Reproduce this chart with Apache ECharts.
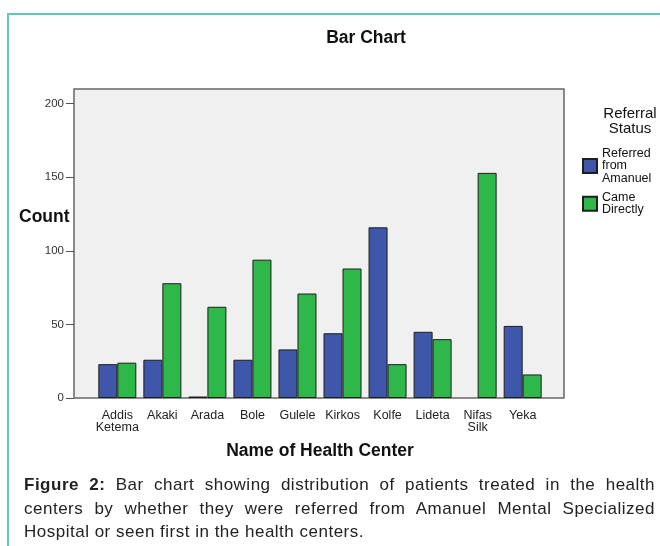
<!DOCTYPE html>
<html>
<head>
<meta charset="utf-8">
<script src="https://cdn.jsdelivr.net/npm/echarts@6/dist/echarts.min.js"></script>
<style>
  html, body { margin: 0; padding: 0; background: #fff; }
  #wrap { position: relative; width: 660px; height: 546px; overflow: hidden; }
  #frame { position: absolute; left: 7px; top: 13px; width: 700px; height: 600px;
           border-left: 2px solid #5ec9b6; border-top: 2px solid #5ec9b6; }
  #chart { position: absolute; left: 0; top: 0; width: 660px; height: 546px; }
  #caption { position: absolute; left: 24px; top: 473px; width: 631px;
             font-family: "Liberation Sans", Arial, sans-serif; font-size: 17px;
             letter-spacing: 0.5px; line-height: 23.5px; color: #222; }
  #caption .j { text-align: justify; text-align-last: justify; }
</style>
</head>
<body>
<div id="wrap">
  <div id="frame"></div>
  <div id="chart"></div>
  <div id="caption">
    <div class="j"><b>Figure 2:</b> Bar chart showing distribution of patients treated in the health</div>
    <div class="j">centers by whether they were referred from Amanuel Mental Specialized</div>
    <div>Hospital or seen first in the health centers.</div>
  </div>
</div>
<script>
var centers = ["Addis Ketema", "Akaki", "Arada", "Bole", "Gulele", "Kirkos", "Kolfe", "Lideta", "Nifas Silk", "Yeka"];
var referred = [23, 26, 1, 26, 33, 44, 116, 45, 0, 49];
var direct = [24, 78, 62, 94, 71, 88, 23, 40, 153, 16];
var yTicks = [0, 50, 100, 150, 200];

var font = "Liberation Sans";
var chart = echarts.init(document.getElementById("chart"));

// empty bars get no outline, as in SPSS
function barData(arr) {
  return arr.map(function (v) {
    return v === 0 ? { value: v, itemStyle: { borderWidth: 0 } } : v;
  });
}

chart.setOption({
  animation: false,
  textStyle: { fontFamily: font },
  title: [
    {
      text: "Bar Chart",
      left: 366, top: 29, textAlign: "center", padding: 0,
      textStyle: { fontSize: 17.5, fontWeight: "bold", color: "#111", fontFamily: font }
    },
    {
      text: "Referral\nStatus",
      left: 630, top: 107, textAlign: "center", padding: 0,
      textStyle: { fontSize: 15, lineHeight: 14.5, fontWeight: "normal", color: "#111", fontFamily: font }
    }
  ],
  legend: {
    orient: "vertical",
    left: 582, top: 147,
    padding: 0,
    itemWidth: 14, itemHeight: 14, itemGap: 6,
    icon: "rect",
    selectedMode: false,
    formatter: function (name) { return name.split(" ").join("\n"); },
    textStyle: { fontSize: 12.5, lineHeight: 12.5, color: "#111", fontFamily: font }
  },
  graphic: [{
    type: "text",
    left: 19, top: 208,
    style: { text: "Count", fontSize: 17.5, fontWeight: "bold", fill: "#111", fontFamily: font }
  }],
  grid: [
    {
      left: 74, top: 89, width: 490, height: 309,
      show: true, backgroundColor: "#f0f0f0", borderColor: "#666", borderWidth: 1.5
    },
    { left: 94.8, top: 89, width: 450.4, height: 309 }
  ],
  xAxis: [
    { gridIndex: 0, type: "value", show: false },
    {
      gridIndex: 1, type: "category", data: centers,
      axisLine: { show: false },
      axisTick: { alignWithLabel: true, length: 9, lineStyle: { color: "#555" } },
      axisLabel: {
        margin: 12, fontSize: 12.5, lineHeight: 12, color: "#222", interval: 0,
        formatter: function (v) { return v.split(" ").join("\n"); }
      },
      name: "Name of Health Center",
      nameLocation: "middle", nameGap: 44,
      nameTextStyle: { fontSize: 17.5, fontWeight: "bold", color: "#111" }
    }
  ],
  yAxis: [
    { gridIndex: 0, type: "value", show: false },
    {
      gridIndex: 1, type: "value", min: 0, max: 210, interval: 50, offset: 20.8,
      splitLine: { show: false },
      axisLine: { show: false },
      axisTick: { show: true, length: 8, customValues: yTicks, lineStyle: { color: "#555" } },
      axisLabel: { customValues: yTicks, margin: 10, fontSize: 11.5, color: "#333" }
    }
  ],
  series: [
    {
      name: "Referred from Amanuel", type: "bar",
      xAxisIndex: 1, yAxisIndex: 1,
      data: barData(referred), barWidth: 19, barGap: "0%",
      itemStyle: { color: "#3e57aa", borderColor: "#1e1e1e", borderWidth: 1 }
    },
    {
      name: "Came Directly", type: "bar",
      xAxisIndex: 1, yAxisIndex: 1,
      data: barData(direct), barWidth: 19, barGap: "0%",
      itemStyle: { color: "#2eb84a", borderColor: "#1e1e1e", borderWidth: 1 }
    }
  ]
});
</script>
</body>
</html>
